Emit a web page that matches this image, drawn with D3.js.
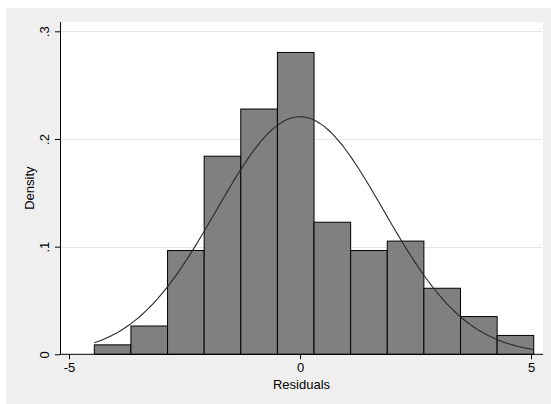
<!DOCTYPE html>
<html>
<head>
<meta charset="utf-8">
<script src="https://cdn.jsdelivr.net/npm/d3@7"></script>
<style>
  html, body { margin: 0; padding: 0; background: #ffffff; }
  svg { display: block; }
  text { font-family: "Liberation Sans", Arial, Helvetica, sans-serif; fill: #000; }
</style>
</head>
<body>
<svg id="chart" width="551" height="404"></svg>
<script>
// Residual histogram: bin counts, bin layout and the fitted normal curve
const binCounts = [1, 3, 11, 21, 26, 32, 14, 11, 12, 7, 4, 2];
const binStart = -4.452;
const binWidth = 0.7926;
const residMean = 0;
const residSD = 1.808;

const xTicks = [-5, 0, 5];
const xTickLabels = ["-5", "0", "5"];
const yTicks = [0, 0.1, 0.2, 0.3];
const yTickLabels = ["0", ".1", ".2", ".3"];

const xTitle = "Residuals";
const yTitle = "Density";

const W = 551, H = 404;
const plot = { left: 60, right: 543, top: 22, bottom: 354.3 };

const svg = d3.select("#chart");

// outer graph region and plot region
svg.append("rect").attr("x", 6).attr("y", 8).attr("width", W - 6).attr("height", H - 8)
  .attr("fill", "#efefef");
svg.append("rect").attr("x", plot.left).attr("y", plot.top)
  .attr("width", plot.right - plot.left).attr("height", plot.bottom - plot.top)
  .attr("fill", "#ffffff");

const x = d3.scaleLinear().domain([-5, 5]).range([69, 531]);
const y = d3.scaleLinear().domain([0, 0.3]).range([plot.bottom, 31.3]);

const total = d3.sum(binCounts);
const bins = binCounts.map((c, i) => ({
  x0: binStart + i * binWidth,
  x1: binStart + (i + 1) * binWidth,
  density: c / (total * binWidth)
}));

// horizontal gridlines
svg.append("g").selectAll("line").data(yTicks.filter(d => d > 0)).join("line")
  .attr("x1", plot.left + 1).attr("x2", plot.right - 1)
  .attr("y1", d => Math.round(y(d)) + 0.5).attr("y2", d => Math.round(y(d)) + 0.5)
  .attr("stroke", "#e6e6e6").attr("stroke-width", 1);

// histogram bars
svg.append("g").selectAll("rect").data(bins).join("rect")
  .attr("x", d => x(d.x0))
  .attr("y", d => y(d.density))
  .attr("width", d => x(d.x1) - x(d.x0))
  .attr("height", d => y(0) - y(d.density))
  .attr("fill", "#808080")
  .attr("stroke", "#000000")
  .attr("stroke-width", 1);

// normal density overlay
const normal = v => Math.exp(-0.5 * ((v - residMean) / residSD) ** 2) / (residSD * Math.sqrt(2 * Math.PI));
const curveX = d3.range(0, 201).map(i => binStart + i * (bins[bins.length - 1].x1 - binStart) / 200);
svg.append("path")
  .datum(curveX)
  .attr("d", d3.line().x(v => x(v)).y(v => y(normal(v))).curve(d3.curveMonotoneX))
  .attr("fill", "none")
  .attr("stroke", "#2a2a2a")
  .attr("stroke-width", 1.1);

// x axis
const xAxis = svg.append("g").attr("transform", `translate(0,${plot.bottom})`)
  .call(d3.axisBottom(x).tickValues(xTicks).tickFormat((d, i) => xTickLabels[i])
    .tickSize(5).tickPadding(3).tickSizeOuter(0));
xAxis.select(".domain").remove();
xAxis.selectAll(".tick line").attr("stroke", "#000");
xAxis.selectAll(".tick text").attr("font-size", 13).attr("font-family", "Liberation Sans, Arial, sans-serif");
svg.append("line").attr("x1", plot.left).attr("x2", plot.right)
  .attr("y1", plot.bottom).attr("y2", plot.bottom).attr("stroke", "#000").attr("stroke-width", 1);

// y axis
const yAxis = svg.append("g").attr("transform", `translate(${plot.left},0)`)
  .call(d3.axisLeft(y).tickValues(yTicks).tickFormat((d, i) => yTickLabels[i])
    .tickSize(5).tickSizeOuter(0));
yAxis.select(".domain").remove();
yAxis.selectAll(".tick line").attr("stroke", "#000");
yAxis.selectAll(".tick text")
  .attr("font-size", 13).attr("font-family", "Liberation Sans, Arial, sans-serif")
  .attr("x", null).attr("dy", null)
  .attr("text-anchor", "middle")
  .attr("dominant-baseline", "central")
  .attr("transform", "translate(-16,0) rotate(-90)");
svg.append("line").attr("x1", plot.left + 0.5).attr("x2", plot.left + 0.5)
  .attr("y1", plot.top).attr("y2", plot.bottom).attr("stroke", "#000").attr("stroke-width", 1);

// axis titles
svg.append("text").attr("x", (plot.left + plot.right) / 2).attr("y", 389)
  .attr("text-anchor", "middle").attr("font-size", 13).text(xTitle);
svg.append("text").attr("transform", `translate(29,${(plot.top + plot.bottom) / 2}) rotate(-90)`)
  .attr("text-anchor", "middle").attr("dominant-baseline", "central")
  .attr("font-size", 13).text(yTitle);
</script>
</body>
</html>
